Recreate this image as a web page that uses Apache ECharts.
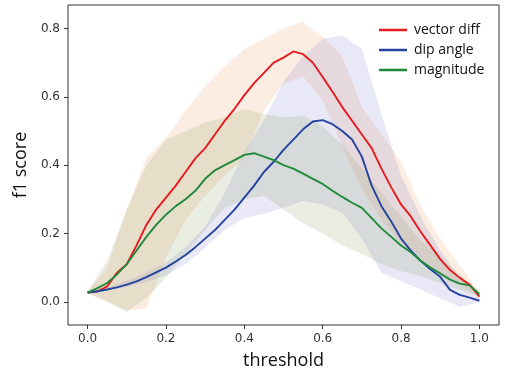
<!DOCTYPE html>
<html><head><meta charset="utf-8">
<script src="https://cdn.jsdelivr.net/npm/echarts@6/dist/echarts.min.js"></script>
<style>html,body{margin:0;padding:0;background:#fff}#c{width:505px;height:372px}</style>
</head><body><div id="c"></div>
<script>
// ---- data ----
const seriesNames = ['vector diff', 'dip angle', 'magnitude'];
const thresholds = [0.000,0.025,0.050,0.075,0.100,0.125,0.150,0.175,0.200,0.225,0.250,0.275,0.300,0.325,0.350,0.375,0.400,0.425,0.450,0.475,0.500,0.525,0.550,0.575,0.600,0.625,0.650,0.675,0.700,0.725,0.750,0.775,0.800,0.825,0.850,0.875,0.900,0.925,0.950,0.975,1.000];
const vectorDiff = [0.027,0.030,0.045,0.085,0.110,0.165,0.225,0.270,0.305,0.340,0.380,0.420,0.450,0.490,0.530,0.565,0.605,0.640,0.670,0.700,0.715,0.733,0.725,0.700,0.658,0.615,0.570,0.530,0.490,0.450,0.390,0.335,0.285,0.250,0.205,0.165,0.125,0.093,0.070,0.050,0.015];
const dipAngle   = [0.027,0.031,0.036,0.042,0.050,0.060,0.072,0.086,0.100,0.118,0.137,0.160,0.185,0.210,0.240,0.270,0.305,0.340,0.380,0.410,0.445,0.475,0.505,0.528,0.532,0.520,0.500,0.475,0.425,0.340,0.280,0.235,0.185,0.150,0.120,0.095,0.073,0.035,0.020,0.012,0.003];
const magnitude  = [0.027,0.040,0.055,0.080,0.110,0.150,0.190,0.225,0.255,0.280,0.300,0.325,0.360,0.385,0.400,0.415,0.430,0.435,0.425,0.415,0.400,0.390,0.375,0.360,0.345,0.325,0.307,0.290,0.275,0.245,0.215,0.190,0.165,0.145,0.120,0.100,0.083,0.065,0.053,0.048,0.022];

const bandX = [0.00,0.05,0.10,0.15,0.20,0.25,0.30,0.35,0.40,0.45,0.50,0.55,0.60,0.65,0.70,0.75,0.80,0.85,0.90,0.95,1.00];
const vectorDiffLo = [0.025,0.000,-0.025,-0.020,0.130,0.240,0.310,0.370,0.420,0.560,0.640,0.660,0.590,0.455,0.330,0.240,0.170,0.125,0.085,0.050,0.015];
const vectorDiffHi = [0.030,0.100,0.270,0.420,0.480,0.560,0.630,0.690,0.740,0.770,0.800,0.820,0.775,0.720,0.570,0.490,0.410,0.280,0.185,0.105,0.030];
const dipAngleLo   = [0.025,0.033,0.044,0.057,0.078,0.110,0.160,0.210,0.245,0.258,0.275,0.295,0.285,0.260,0.185,0.085,0.060,0.035,0.010,-0.015,0.000];
const dipAngleHi   = [0.030,0.042,0.062,0.085,0.115,0.160,0.220,0.320,0.440,0.530,0.645,0.720,0.770,0.780,0.740,0.550,0.370,0.250,0.150,0.070,0.020];
const magnitudeLo  = [0.025,0.000,-0.030,0.010,0.070,0.140,0.210,0.275,0.300,0.310,0.270,0.230,0.200,0.165,0.140,0.110,0.090,0.075,0.055,0.035,0.015];
const magnitudeHi  = [0.030,0.120,0.270,0.400,0.475,0.500,0.525,0.540,0.565,0.550,0.540,0.545,0.515,0.460,0.390,0.320,0.250,0.180,0.130,0.080,0.030];

const xTicks = [0.0,0.2,0.4,0.6,0.8,1.0];
const yTicks = [0.0,0.2,0.4,0.6,0.8];

// ---- styles ----
const lineColors = ['#e8191e', '#2442a0', '#1e8a3a'];
const bandColors = ['rgba(240,160,100,0.19)', 'rgba(115,115,200,0.16)', 'rgba(150,165,110,0.2)'];

function pairs(xs, ys) { return xs.map((x, i) => [x, ys[i]]); }
function band(name, lo, hi, color) {
  return {
    type: 'custom', name: name + ' band', silent: true, z: 1,
    data: bandX.map((x, i) => [x, lo[i], hi[i]]),
    encode: { x: 0, y: [1, 2] },
    renderItem: function (params, api) {
      if (params.dataIndex !== 0) return null;
      const pts = [];
      for (let j = 0; j < bandX.length; j++) pts.push(api.coord([bandX[j], hi[j]]));
      for (let j = bandX.length - 1; j >= 0; j--) pts.push(api.coord([bandX[j], lo[j]]));
      return { type: 'polygon', shape: { points: pts }, style: { fill: color, stroke: null } };
    }
  };
}
function mainLine(name, ys, color) {
  return { type: 'line', name: name, data: pairs(thresholds, ys), symbol: 'none',
    lineStyle: { color: color, width: 1.9 }, itemStyle: { color: color }, z: 3 };
}

const chart = echarts.init(document.getElementById('c'), null, { renderer: 'canvas' });
chart.setOption({
  animation: false,
  backgroundColor: '#ffffff',
  grid: { left: 68, right: 6, top: 5, bottom: 47, show: true, borderColor: '#333', borderWidth: 1,
          outerBoundsMode: 'none', containLabel: false },
  legend: {
    orient: 'vertical', left: 374, top: 18, itemWidth: 28, itemHeight: 2.5, itemGap: 6,
    icon: 'rect',
    data: seriesNames,
    textStyle: { fontFamily: 'Open Sans', fontSize: 14, color: '#111', padding: [0, 0, 0, 2] }
  },
  xAxis: {
    type: 'value', min: -0.05, max: 1.05,
    axisLine: { show: false, onZero: false },
    splitLine: { show: false },
    axisTick: { show: true, customValues: xTicks, length: 4, lineStyle: { color: '#333' } },
    axisLabel: { customValues: xTicks, formatter: v => v.toFixed(1), color: '#333', fontFamily: 'DejaVu Sans', fontSize: 12, margin: 8 },
    name: 'threshold', nameLocation: 'middle', nameGap: 27,
    nameTextStyle: { fontFamily: 'Open Sans', fontSize: 18, color: '#111' }
  },
  yAxis: {
    type: 'value', min: -0.068, max: 0.869,
    axisLine: { show: false, onZero: false },
    splitLine: { show: false },
    axisTick: { show: true, customValues: yTicks, length: 4, lineStyle: { color: '#333' } },
    axisLabel: { customValues: yTicks, formatter: v => v.toFixed(1), color: '#333', fontFamily: 'DejaVu Sans', fontSize: 12, margin: 8 },
    name: 'f1 score', nameLocation: 'middle', nameGap: 24, nameRotate: 90,
    nameTextStyle: { fontFamily: 'Open Sans', fontSize: 18, color: '#111' }
  },
  series: [
    band(seriesNames[0], vectorDiffLo, vectorDiffHi, bandColors[0]),
    band(seriesNames[1], dipAngleLo, dipAngleHi, bandColors[1]),
    band(seriesNames[2], magnitudeLo, magnitudeHi, bandColors[2]),
    mainLine(seriesNames[0], vectorDiff, lineColors[0]),
    mainLine(seriesNames[1], dipAngle, lineColors[1]),
    mainLine(seriesNames[2], magnitude, lineColors[2])
  ]
});
</script>
</body></html>
